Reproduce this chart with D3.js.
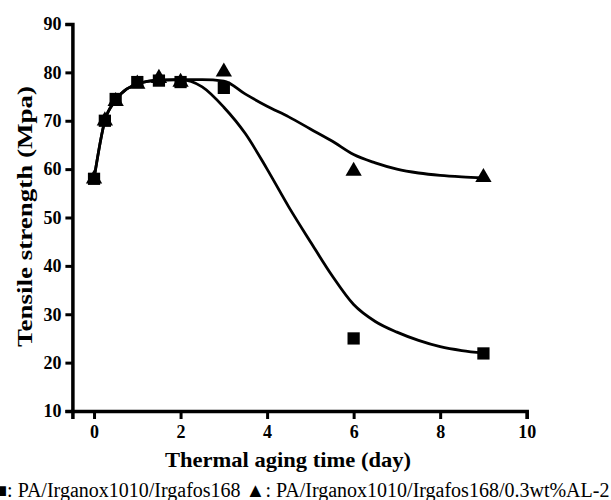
<!DOCTYPE html>
<html>
<head>
<meta charset="utf-8">
<script src="https://cdn.jsdelivr.net/npm/d3@7/dist/d3.min.js"></script>
<style>
  html, body { margin: 0; padding: 0; background: #fff; }
  svg { display: block; }
  text { font-family: "Liberation Serif", "Times New Roman", serif; fill: #000; }
</style>
</head>
<body>
<svg id="chart" width="611" height="500"></svg>
<script>
// Measured tensile strength vs. thermal aging time
const days = [0, 0.25, 0.5, 1, 1.5, 2, 3, 6, 9];
const strengthSquare = [58, 70, 74.5, 78, 78.3, 78, 76.8, 25, 21.9];
const strengthTriangle = [58, 70, 74, 77.6, 78.8, 78, 80.1, 59.6, 58.3];

// Fitted trend curves
const fitDays = [0, 0.25, 0.5, 1, 1.5, 2, 2.5, 3, 3.5, 4, 4.5, 5, 5.5, 6, 6.5, 7, 7.5, 8, 8.5, 9];
const fitSquare = [58, 70, 74.2, 77.6, 78.4, 78.5, 77, 72.8, 67.3, 60, 52.2, 45, 38, 32, 28.5, 26.3, 24.6, 23.3, 22.5, 22];
const fitTriangle = [58, 70, 74.2, 77.6, 78.4, 78.5, 78.5, 78.2, 75.5, 73, 70.8, 68.3, 65.8, 63, 61.3, 60, 59.2, 58.7, 58.4, 58.2];

const xTicks = [0, 2, 4, 6, 8, 10];
const yTicks = [10, 20, 30, 40, 50, 60, 70, 80, 90];

const xTitle = "Thermal aging time (day)";
const yTitle = "Tensile strength (Mpa)";
const legendSquare = "■: PA/Irganox1010/Irgafos168";
const legendTriangle = "▲: PA/Irganox1010/Irgafos168/0.3wt%AL-2";

const svg = d3.select("#chart");

const x = d3.scaleLinear().domain([-0.5, 10]).range([72.4, 526.7]);
const y = d3.scaleLinear().domain([10, 90]).range([411, 24]);

// Axes
const xAxis = svg.append("g")
  .attr("transform", `translate(0,${y(10)})`)
  .call(d3.axisBottom(x).tickValues(xTicks).tickSizeOuter(0).tickSize(8).tickPadding(6).tickFormat(d3.format("d")));
const yAxis = svg.append("g")
  .attr("transform", `translate(${x(-0.5)},0)`)
  .call(d3.axisLeft(y).tickValues(yTicks).tickSizeOuter(0).tickSize(7).tickPadding(4).tickFormat(d3.format("d")));

[xAxis, yAxis].forEach(g => {
  g.select(".domain").attr("stroke", "#000").attr("stroke-width", 3.5);
  g.selectAll(".tick line").attr("stroke", "#000").attr("stroke-width", 3);
  g.selectAll(".tick text")
    .attr("fill", "#000")
    .style("font-family", "'Liberation Serif', serif")
    .style("font-weight", "bold")
    .style("font-size", "18px");
});

// Trend curves
const line = d3.line()
  .x(d => x(d[0]))
  .y(d => y(d[1]))
  .curve(d3.curveMonotoneX);

[fitSquare, fitTriangle].forEach(vals => {
  svg.append("path")
    .datum(fitDays.map((d, i) => [d, vals[i]]))
    .attr("d", line)
    .attr("fill", "none")
    .attr("stroke", "#000")
    .attr("stroke-width", 2.8)
    .attr("stroke-linejoin", "round");
});

// Markers
svg.append("g").selectAll("path")
  .data(days.map((d, i) => [d, strengthSquare[i]]))
  .join("path")
  .attr("transform", d => `translate(${x(d[0])},${y(d[1])})`)
  .attr("d", d3.symbol().type(d3.symbolSquare).size(150))
  .attr("fill", "#000");

svg.append("g").selectAll("path")
  .data(days.map((d, i) => [d, strengthTriangle[i]]))
  .join("path")
  .attr("transform", d => `translate(${x(d[0])},${y(d[1])})`)
  .attr("d", d3.symbol().type(d3.symbolTriangle).size(115))
  .attr("fill", "#000");

// Axis titles
svg.append("text")
  .attr("x", 288).attr("y", 467)
  .attr("text-anchor", "middle")
  .attr("textLength", 246).attr("lengthAdjust", "spacingAndGlyphs")
  .style("font-weight", "bold").style("font-size", "21px")
  .text(xTitle);

svg.append("text")
  .attr("transform", "translate(32,216.5) rotate(-90)")
  .attr("text-anchor", "middle")
  .attr("textLength", 261).attr("lengthAdjust", "spacingAndGlyphs")
  .style("font-weight", "bold").style("font-size", "22px")
  .text(yTitle);

// Sample legend line
svg.append("text")
  .attr("x", -5).attr("y", 497)
  .style("font-size", "20px")
  .text(legendSquare + " " + legendTriangle);
</script>
</body>
</html>
